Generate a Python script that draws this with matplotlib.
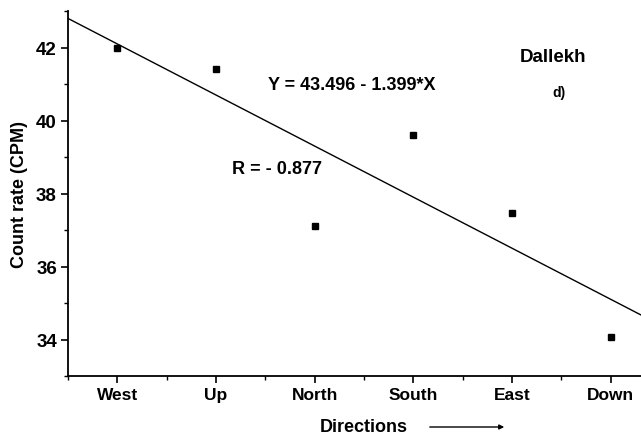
import matplotlib
matplotlib.use("Agg")
import matplotlib.pyplot as plt
import numpy as np
from matplotlib.ticker import MultipleLocator

plt.rcParams['font.family'] = ['Liberation Sans', 'DejaVu Sans']

directions = ["West", "Up", "North", "South", "East", "Down"]
count_rate = [42.0, 41.4, 37.1, 39.6, 37.46, 34.07]
intercept = 43.496
slope = -1.399

W, H = 641, 439
fig = plt.figure(figsize=(W / 100, H / 100), dpi=100)
ax = fig.add_axes([68 / W, 1 - 377 / H, (660 - 68) / W, (377 - 12) / H])

x = np.arange(1, len(directions) + 1)
ax.plot(x, count_rate, 's', color='black', markersize=5, clip_on=False)

xl = np.array([0.5, 6.5])
ax.plot(xl, intercept + slope * xl, color='black', linewidth=1.0)

ax.set_xlim(0.5, 6.5)
ax.set_ylim(33, 43)
ax.set_xticks(x)
ax.set_xticklabels(directions, fontsize=12.5, fontweight='bold')
ax.set_xticks(np.arange(0.5, 7, 1), minor=True)
ax.set_yticks([34, 36, 38, 40, 42])
ax.yaxis.set_minor_locator(MultipleLocator(1))
for lab in ax.get_yticklabels():
    lab.set_fontweight('bold')
    lab.set_fontsize(13.5)

for s in ['top', 'right']:
    ax.spines[s].set_visible(False)
for s in ['left', 'bottom']:
    ax.spines[s].set_linewidth(1.3)
ax.tick_params(which='major', direction='out', length=5, width=1.2, pad=3)
ax.tick_params(which='minor', direction='out', length=3, width=1.0)

ax.set_ylabel("Count rate (CPM)", fontsize=13, fontweight='bold', labelpad=6)

fig.text(364 / W, 1 - 428 / H, "Directions", fontsize=13, fontweight='bold',
         ha='center', va='center')
fig.add_artist(matplotlib.patches.FancyArrowPatch(
    (427 / W, 1 - 428 / H), (507 / W, 1 - 428 / H), transform=fig.transFigure,
    arrowstyle='-|>', mutation_scale=7, color='black', linewidth=1.0))

fig.text(352 / W, 1 - 86 / H, "Y = 43.496 - 1.399*X", fontsize=13,
         fontweight='bold', ha='center', va='center')
fig.text(277 / W, 1 - 170 / H, "R = - 0.877", fontsize=13,
         fontweight='bold', ha='center', va='center')
fig.text(553 / W, 1 - 58 / H, "Dallekh", fontsize=13.5,
         fontweight='bold', ha='center', va='center')
fig.text(559 / W, 1 - 93 / H, "d)", fontsize=10,
         fontweight='bold', ha='center', va='center')

fig.savefig("out.png", dpi=100)
